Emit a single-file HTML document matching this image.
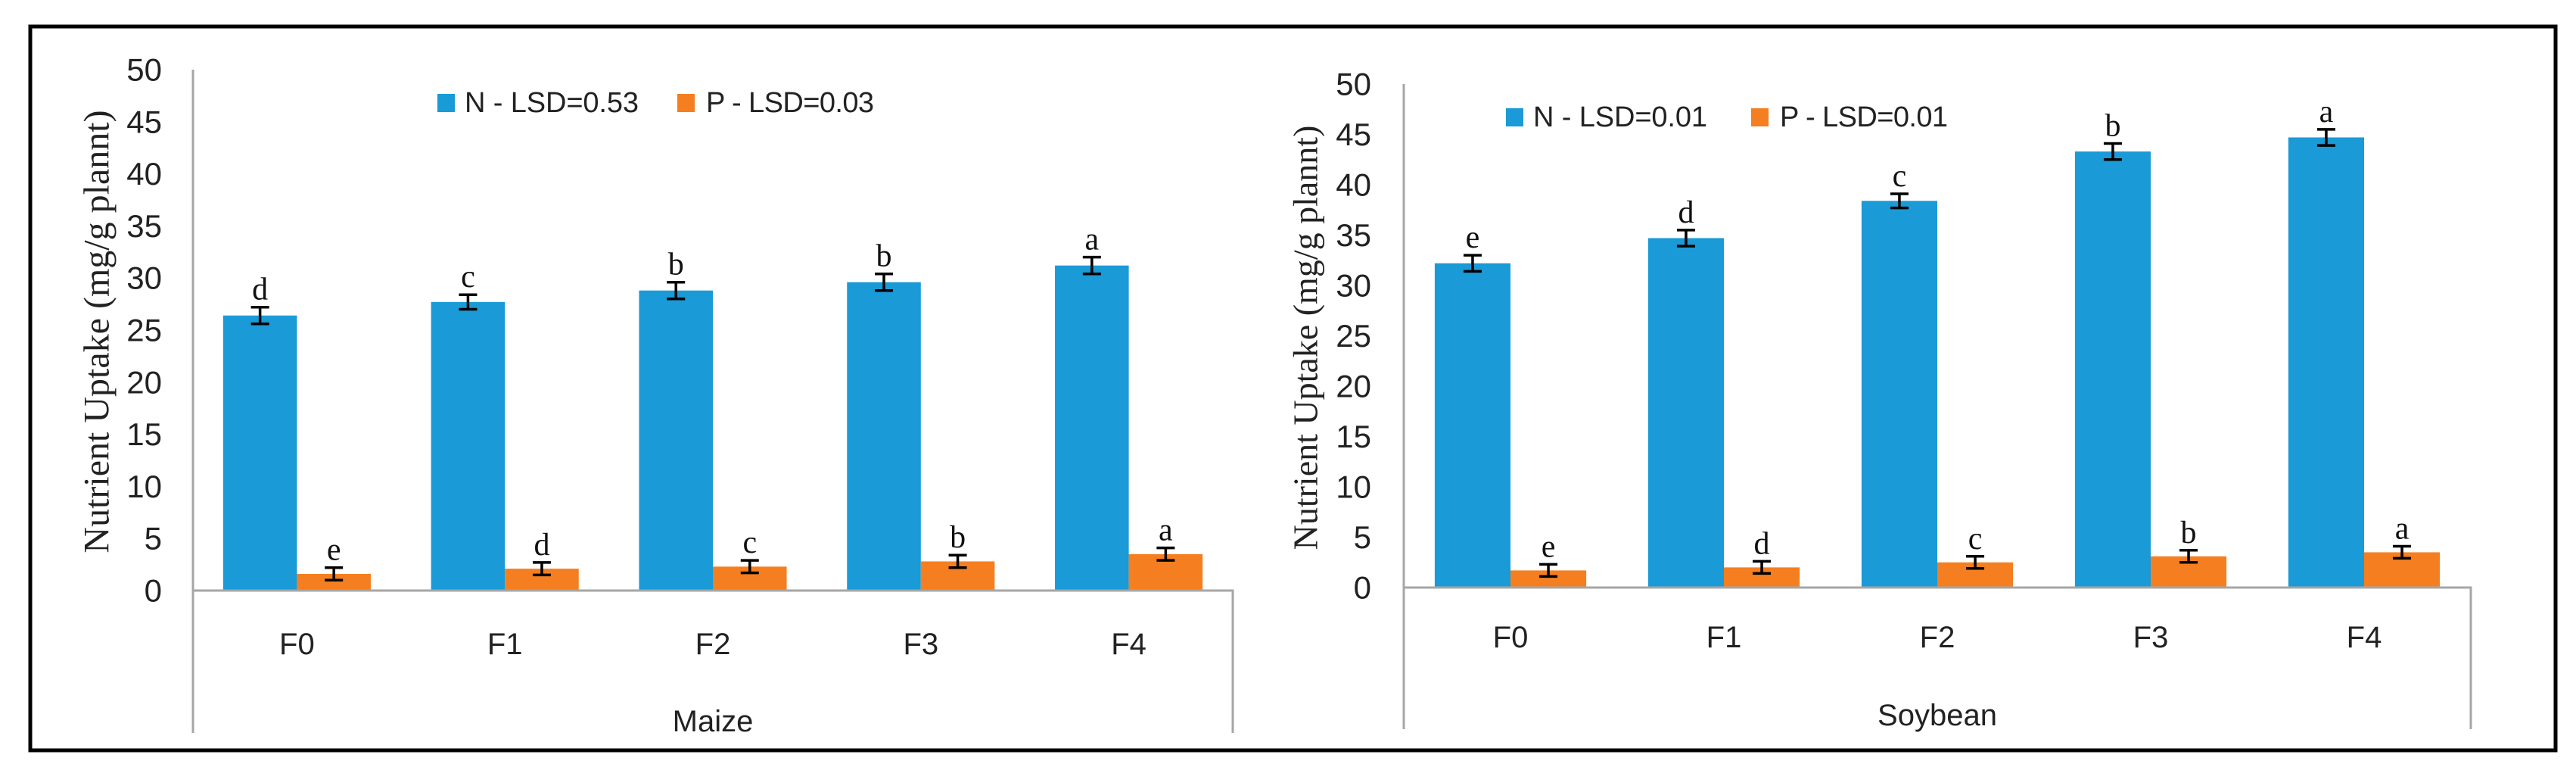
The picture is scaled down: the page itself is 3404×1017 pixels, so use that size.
<!DOCTYPE html>
<html><head><meta charset="utf-8"><style>
html,body{margin:0;padding:0;background:#fff;}
svg{display:block;}
</style></head><body>
<svg id="fig" width="3404" height="1017" viewBox="0 0 3404 1017" xmlns="http://www.w3.org/2000/svg">
<rect x="40" y="35" width="3337" height="956" fill="#fff" stroke="#000" stroke-width="5"/>
<g id="maize"></g>
<g id="soy"></g>
</svg>
<script>
const categories = ["F0","F1","F2","F3","F4"];
const yTicks = [0,5,10,15,20,25,30,35,40,45,50];
const maizeN = [26.4, 27.7, 28.8, 29.6, 31.2];
const maizeP = [1.6, 2.1, 2.3, 2.8, 3.5];
const maizeNErr = [0.8, 0.7, 0.8, 0.8, 0.8];
const maizePErr = [0.6, 0.6, 0.6, 0.6, 0.6];
const maizeNLetters = ["d","c","b","b","a"];
const maizePLetters = ["e","d","c","b","a"];
const soyN = [32.2, 34.7, 38.4, 43.3, 44.7];
const soyP = [1.7, 2.0, 2.5, 3.1, 3.5];
const soyNErr = [0.8, 0.8, 0.7, 0.8, 0.8];
const soyPErr = [0.6, 0.6, 0.6, 0.6, 0.6];
const soyNLetters = ["e","d","c","b","a"];
const soyPLetters = ["e","d","c","b","a"];

const NS = "http://www.w3.org/2000/svg";
const BLUE = "#1a9ad6", ORANGE = "#f57f20", AXIS = "#a6a6a6";
function mk(tag, attrs, parent){ const e=document.createElementNS(NS,tag); for(const k in attrs) e.setAttribute(k,attrs[k]); parent.appendChild(e); return e; }

function drawChart(g, cfg){
  const yScale = v => cfg.y0 - (v/50)*(cfg.y0-cfg.y50);
  const cw = (cfg.xEnd-cfg.x0)/categories.length;
  const bw = cw*0.355;
  const xCenter = i => cfg.x0 + cw*(i+0.5);

  const tt = mk("text",{x:cfg.titleX,y:cfg.titleY,"font-family":"Liberation Serif, serif","font-size":cfg.titleSize,"text-anchor":"middle","dominant-baseline":"central",fill:"#222",transform:`rotate(-90 ${cfg.titleX} ${cfg.titleY})`},g);
  tt.textContent="Nutrient Uptake (mg/g plannt)";
  
  

  yTicks.forEach(t=>{
    const tx = mk("text",{x:cfg.tickX,y:yScale(t),"font-family":"Liberation Sans, sans-serif","font-size":cfg.tickSize,"text-anchor":"end","dominant-baseline":"central",fill:"#222"},g);
    tx.textContent=t;
    
    
  });

  categories.forEach((c,i)=>{
    const xc = xCenter(i);
    const series = [[cfg.N,cfg.NErr,cfg.NL,BLUE,xc-bw,'n'],[cfg.P,cfg.PErr,cfg.PL,ORANGE,xc,'p']];
    series.forEach(s=>{
      const v=s[0][i], e=s[1][i];
      const r = mk("rect",{x:s[4],y:yScale(v),width:bw,height:cfg.y0-yScale(v),fill:s[3]},g);
      
      
      const cx = s[4]+bw/2, yt=yScale(v+e), yb=yScale(v-e);
      const eb = mk("path",{d:`M${cx-12},${yt}H${cx+12}M${cx},${yt}V${yb}M${cx-12},${yb}H${cx+12}`,stroke:"#000","stroke-width":3.5,fill:"none"},g);
      
      
      const lt = mk("text",{x:cx,y:yt-10,"font-family":"Liberation Serif, serif","font-size":42,"text-anchor":"middle",fill:"#111"},g);
      lt.textContent=s[2][i];
      
      
    });
    const cl = mk("text",{x:xc,y:cfg.catY,"font-family":"Liberation Sans, sans-serif","font-size":40,"text-anchor":"middle","dominant-baseline":"central",fill:"#222"},g);
    cl.textContent=c;
    
    
  });

  const ya = mk("line",{x1:cfg.x0,y1:cfg.axisTop,x2:cfg.x0,y2:cfg.axisBottom,stroke:AXIS,"stroke-width":3},g);
  
  
  const xa = mk("path",{d:`M${cfg.x0},${cfg.y0}H${cfg.xEnd}V${cfg.axisBottom}`,stroke:AXIS,"stroke-width":3,fill:"none"},g);
  
  

  const gl = mk("text",{x:(cfg.x0+cfg.xEnd)/2,y:cfg.groupY,"font-family":"Liberation Sans, sans-serif","font-size":40,"text-anchor":"middle","dominant-baseline":"central",fill:"#222"},g);
  gl.textContent=cfg.group;
  
  

  const ls1 = mk("rect",{x:cfg.legX,y:cfg.legY-12,width:23,height:24,fill:BLUE},g);
  
  
  const lt1 = mk("text",{x:cfg.legX+36,y:cfg.legY,"font-family":"Liberation Sans, sans-serif","font-size":38,"dominant-baseline":"central",fill:"#222",textLength:230},g);
  lt1.textContent=cfg.legN;
  
  
  const ls2 = mk("rect",{x:cfg.legX2,y:cfg.legY-12,width:23,height:24,fill:ORANGE},g);
  
  
  const lt2 = mk("text",{x:cfg.legX2+38,y:cfg.legY,"font-family":"Liberation Sans, sans-serif","font-size":38,"dominant-baseline":"central",fill:"#222",textLength:222},g);
  lt2.textContent=cfg.legP;
  
  
}

drawChart(document.getElementById('maize'),{
  x0:255,xEnd:1629,y0:780,y50:92,axisTop:92,axisBottom:968,
  N:maizeN,P:maizeP,NErr:maizeNErr,PErr:maizePErr,NL:maizeNLetters,PL:maizePLetters,
  titleX:128,titleY:438,titleSize:48,tickX:214,tickSize:42,catY:851,groupY:953,group:"Maize",
  legX:578,legX2:895,legY:136,legN:"N - LSD=0.53",legP:"P - LSD=0.03"
});
drawChart(document.getElementById('soy'),{
  x0:1855,xEnd:3265,y0:776,y50:111,axisTop:111,axisBottom:963,
  N:soyN,P:soyP,NErr:soyNErr,PErr:soyPErr,NL:soyNLetters,PL:soyPLetters,
  titleX:1725,titleY:446,titleSize:46,tickX:1812,tickSize:42,catY:842,groupY:945,group:"Soybean",
  legX:1990,legX2:2314,legY:155,legN:"N - LSD=0.01",legP:"P - LSD=0.01"
});
</script>
</body></html>
